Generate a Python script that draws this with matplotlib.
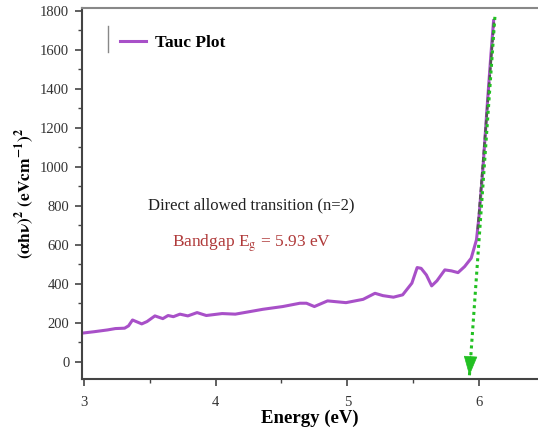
import matplotlib.pyplot as plt
import numpy as np

plt.rcParams['font.family'] = ['Liberation Serif', 'DejaVu Serif']
plt.rcParams['mathtext.fontset'] = 'stix'

# Tauc plot data
energy = [2.98, 3.08, 3.18, 3.24, 3.31, 3.34, 3.37, 3.44, 3.48, 3.54, 3.60, 3.64,
          3.68, 3.73, 3.79, 3.86, 3.93, 4.05, 4.15, 4.26, 4.36, 4.51, 4.64, 4.69,
          4.75, 4.85, 4.99, 5.12, 5.21, 5.27, 5.35, 5.42, 5.49, 5.53, 5.56, 5.60,
          5.64, 5.68, 5.74, 5.79, 5.84, 5.89, 5.94, 5.98, 6.00, 6.03, 6.06, 6.09, 6.11]
tauc = [147, 155, 164, 171, 173, 185, 215, 195, 207, 236, 222, 238,
        232, 245, 236, 253, 238, 248, 245, 258, 270, 284, 301, 301,
        284, 313, 304, 321, 352, 340, 332, 344, 404, 484, 480, 446,
        390, 416, 472, 467, 458, 489, 532, 626, 750, 1000, 1300, 1580, 1750]

# linear fit of the absorption edge
fit_x = [5.99, 6.115]
fit_y = [680, 1760]

# extrapolation arrow down to the energy axis
arrow_x = [6.12, 5.925]
arrow_y = [1770, -85]

purple = '#a850c8'
green = '#22c022'

fig = plt.figure(figsize=(5.38, 4.38), dpi=100)
ax = fig.add_axes([0.152, 0.135, 0.848, 0.847])

ax.plot(energy, tauc, color=purple, lw=2.2, label='Tauc Plot')
ax.plot(fit_x, fit_y, color='#555555', lw=1.8, ls=(0, (2, 1)))
ax.plot(arrow_x, arrow_y, color=green, lw=2.2, ls=(0, (1, 1.2)))
ax.annotate('', xy=(arrow_x[1], arrow_y[1]), xytext=(arrow_x[1] + 0.012, arrow_y[1] + 130),
            arrowprops=dict(arrowstyle='-|>,head_length=1.3,head_width=0.45',
                            color=green, lw=0.5))

ax.set_xlim(2.985, 6.447)
ax.set_ylim(-87, 1816)
ax.set_xticks([3, 4, 5, 6])
ax.set_xticks(np.arange(3.5, 6.5, 1.0), minor=True)
ax.set_yticks(np.arange(0, 1801, 200))
ax.set_yticks(np.arange(100, 1800, 200), minor=True)

ax.spines['right'].set_visible(False)
for side in ['left', 'bottom']:
    ax.spines[side].set_color('#444444')
    ax.spines[side].set_linewidth(1.5)
ax.spines['top'].set_color('#888888')
ax.spines['top'].set_linewidth(1.5)
ax.tick_params(which='major', direction='out', length=5, width=1.2, colors='#444444',
               labelsize=10.5, labelcolor='#333333', pad=4)
ax.tick_params(axis='x', which='major', pad=7)
ax.tick_params(which='minor', direction='out', length=3, width=1.0, colors='#444444')

ax.set_xlabel('Energy (eV)', fontsize=13.5, fontweight='bold', labelpad=1)
ax.set_ylabel(r'$\mathbf{(\alpha h\nu)^2\ (eVcm^{-1})^2}$', fontsize=12.5, labelpad=2)

leg = ax.legend(loc='upper left', frameon=False, fontsize=12.5, handlelength=1.5,
                handletextpad=0.5, bbox_to_anchor=(0.05, 0.97))
for t in leg.get_texts():
    t.set_fontweight('bold')
ax.plot([0.057, 0.057], [0.88, 0.95], transform=ax.transAxes, color='#888888', lw=1)

ax.text(4.27, 805, 'Direct allowed transition (n=2)', fontsize=12, ha='center',
        va='center', color='#222222')
ax.text(4.27, 610, r'Bandgap E$_\mathrm{g}$ = 5.93 eV', fontsize=12.5, ha='center',
        va='center', color='#b03a3a')

plt.savefig('out.png', dpi=100)
